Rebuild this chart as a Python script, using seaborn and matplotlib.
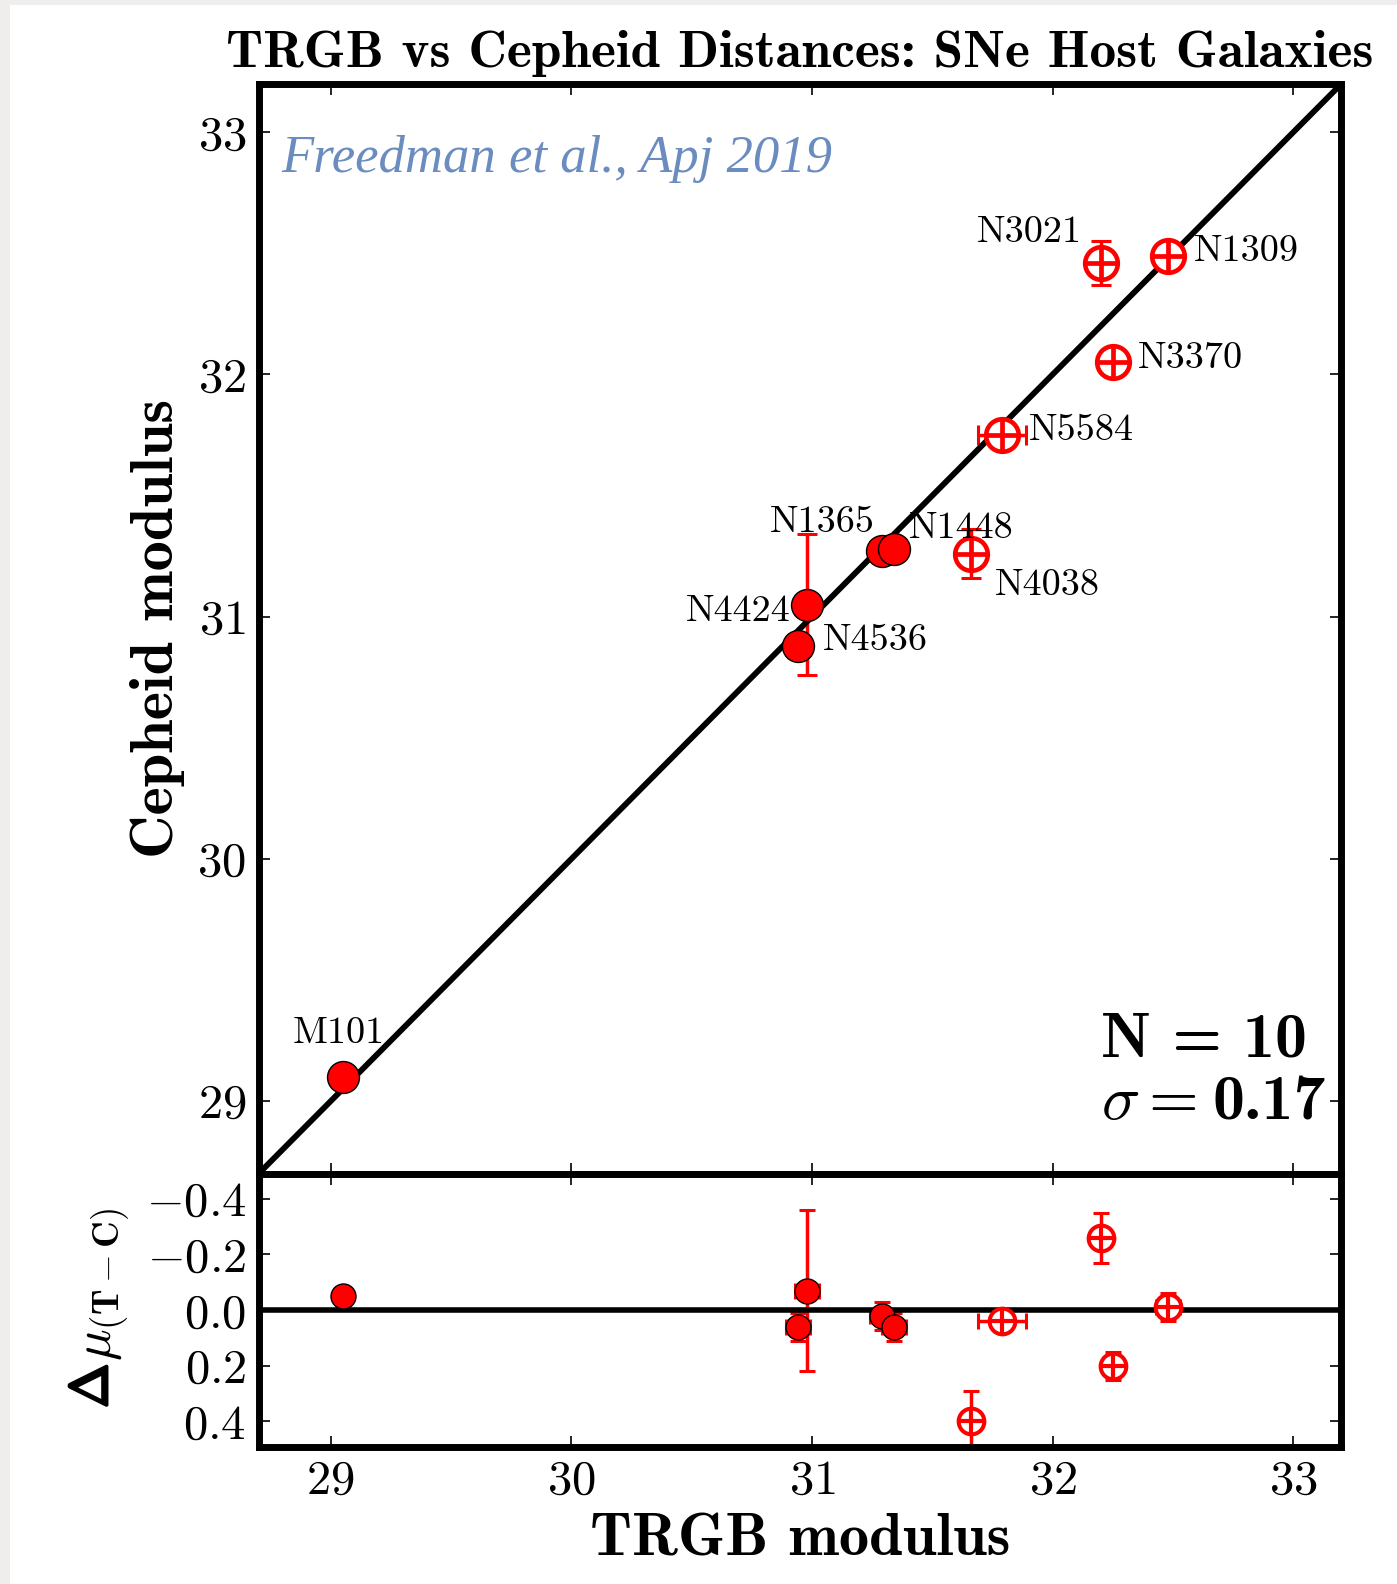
import numpy as np
import pandas as pd
import matplotlib
matplotlib.use("Agg")
import matplotlib.pyplot as plt
import matplotlib.patheffects as pe
import seaborn as sns
from matplotlib.patches import Rectangle

# ---------------- data ----------------
names = ["M101", "N1365", "N1448", "N4424", "N4536",
         "N1309", "N3021", "N3370", "N4038", "N5584"]
trgb = [29.05, 31.29, 31.34, 30.98, 30.94, 32.48, 32.20, 32.25, 31.66, 31.79]
ceph = [29.10, 31.27, 31.28, 31.05, 30.88, 32.49, 32.46, 32.05, 31.26, 31.75]
trgb_err = [0.03, 0.05, 0.05, 0.05, 0.05, 0.05, 0.04, 0.04, 0.04, 0.10]
ceph_err = [0.03, 0.04, 0.04, 0.29, 0.05, 0.04, 0.09, 0.04, 0.10, 0.04]
resid_err = [0.03, 0.05, 0.05, 0.29, 0.05, 0.05, 0.09, 0.05, 0.11, 0.04]
filled = [True, True, True, True, True, False, False, False, False, False]

xticks = [29, 30, 31, 32, 33]
yticks_main = [29, 30, 31, 32, 33]
yticks_res = [-0.4, -0.2, 0.0, 0.2, 0.4]
xlim = [28.7, 33.2]
ylim_main = [28.7, 33.2]
ylim_res = [0.49, -0.49]
n_hosts = 10
sigma = 0.17

# label placement: offset in pixels (dx, dy) and horizontal alignment
label_style = {
    "M101": (-4, 34, "center"),
    "N1365": (-59, 19, "center"),
    "N1448": (15, 11, "left"),
    "N4424": (-16, -16, "right"),
    "N4536": (25, -4, "left"),
    "N4038": (24, -41, "left"),
    "N5584": (26, -5, "left"),
    "N3370": (25, -6, "left"),
    "N1309": (25, -5, "left"),
    "N3021": (-19, 21, "right"),
}

df = pd.DataFrame({"name": names, "trgb": trgb, "ceph": ceph,
                   "trgb_err": trgb_err, "ceph_err": ceph_err,
                   "resid_err": resid_err, "filled": filled})
df["resid"] = df["trgb"] - df["ceph"]

# ---------------- style ----------------
sns.set_theme(style="ticks")
plt.rcParams.update({
    "mathtext.fontset": "cm",
    "font.family": ["cmr10", "DejaVu Serif"],
    "axes.unicode_minus": False,
    "axes.linewidth": 5,
    "text.color": "black",
    "axes.labelcolor": "black",
    "xtick.color": "black",
    "ytick.color": "black",
})

W, H = 1397, 1584
fig = plt.figure(figsize=(W / 100, H / 100), dpi=100)
fig.patch.set_facecolor("#efeeec")
fig.add_artist(Rectangle((10 / W, 0), 1, 1 - 5 / H, transform=fig.transFigure,
                         facecolor="white", edgecolor="none", zorder=0))

ax = fig.add_axes([0.1851, 0.2590, 0.7751, 0.6881])
axr = fig.add_axes([0.1851, 0.0868, 0.7751, 0.1722])

RED = "#ff0000"
fdf = df[df["filled"]]
odf = df[~df["filled"]]

# ---------- main panel ----------
sns.lineplot(x=xlim, y=ylim_main, ax=ax, color="black", linewidth=4.2, zorder=3)
ax.errorbar(df["trgb"], df["ceph"], xerr=df["trgb_err"], yerr=df["ceph_err"],
            fmt="none", ecolor=RED, elinewidth=2.5, capsize=7, capthick=2.2, zorder=2)
sns.scatterplot(data=fdf, x="trgb", y="ceph", ax=ax, s=23 ** 2, color=RED,
                edgecolor="black", linewidth=1, zorder=4)
sns.scatterplot(data=odf, x="trgb", y="ceph", ax=ax, s=23.5 ** 2, color="white",
                edgecolor=RED, linewidth=3.3, zorder=4)
sns.scatterplot(data=odf, x="trgb", y="ceph", ax=ax, s=22.5 ** 2, marker="+",
                color=RED, linewidth=3.4, zorder=5)

for _, r in df.iterrows():
    dx, dy, ha = label_style[r["name"]]
    ax.annotate(r["name"], (r["trgb"], r["ceph"]), xytext=(dx * 1.01, dy * 1.01),
                textcoords="offset pixels", ha=ha, va="baseline",
                fontsize=27.5, fontfamily="cmr10", color="black", zorder=6)

ax.set_xlim(xlim)
ax.set_ylim(ylim_main)
ax.set_xticks(xticks)
ax.set_yticks(yticks_main)
ax.set_yticklabels([r"$\mathrm{%d}$" % v for v in yticks_main])
ax.tick_params(axis="both", direction="in", length=8, width=1.2, top=True,
               right=True, labelbottom=False, labelsize=35, pad=9,
               colors="black")
ax.set_xlabel("")
ax.set_ylabel("Cepheid modulus", fontfamily="cmb10", fontsize=43.5, color="black")
ax.yaxis.set_label_coords(-0.068, 0.5)
ax.set_title("TRGB vs Cepheid Distances: SNe Host Galaxies",
             fontfamily="cmb10", fontsize=38.5, pad=12, color="black")

ax.text(0.0205, 0.919, "Freedman et al., Apj 2019", transform=ax.transAxes,
        fontfamily="Liberation Serif", style="italic", fontsize=38,
        color="#6a8cbf", ha="left", va="baseline")
ax.text(0.778, 0.108, "N = %d" % n_hosts, transform=ax.transAxes,
        fontfamily="cmb10", fontsize=46, ha="left", va="baseline", color="black")
ax.text(0.778, 0.050, r"$\sigma =$", transform=ax.transAxes,
        fontsize=46, ha="left", va="baseline", color="black")
ax.text(0.8806, 0.050, "%.2f" % sigma, transform=ax.transAxes,
        fontfamily="cmb10", fontsize=46, ha="left", va="baseline", color="black")

# ---------- residual panel ----------
axr.axhline(0, color="black", linewidth=4, zorder=3)
axr.errorbar(df["trgb"], df["resid"], xerr=df["trgb_err"], yerr=df["resid_err"],
             fmt="none", ecolor=RED, elinewidth=2.5, capsize=6, capthick=2.2, zorder=2)
sns.scatterplot(data=fdf, x="trgb", y="resid", ax=axr, s=18 ** 2, color=RED,
                edgecolor="black", linewidth=1, zorder=4)
sns.scatterplot(data=odf, x="trgb", y="resid", ax=axr, s=18.5 ** 2, color="white",
                edgecolor=RED, linewidth=2.9, zorder=4)
sns.scatterplot(data=odf, x="trgb", y="resid", ax=axr, s=17.5 ** 2, marker="+",
                color=RED, linewidth=3.0, zorder=5)

axr.set_xlim(xlim)
axr.set_ylim(ylim_res)
axr.set_xticks(xticks)
axr.set_xticklabels([r"$\mathrm{%d}$" % v for v in xticks])
axr.set_yticks(yticks_res)
axr.set_yticklabels([r"$\mathrm{%.1f}$" % v for v in yticks_res])
axr.tick_params(axis="both", direction="in", length=8, width=1.2, top=True,
                right=True, labelsize=35, pad=9, colors="black")
axr.set_xlabel("TRGB modulus", fontfamily="cmb10", fontsize=43.5, color="black")
axr.xaxis.set_label_coords(0.5, -0.245)
axr.set_ylabel("")
# y label of residual panel: bold Delta + mu_(T-C)
axr.text(-0.1306, 0.222, r"$\Delta$", transform=axr.transAxes, rotation=90,
         ha="right", va="center", fontsize=38, color="black",
         path_effects=[pe.withStroke(linewidth=2.2, foreground="black")])
axr.text(-0.1157, 0.593, r"$\mu_{(\mathbf{T-C})}$", transform=axr.transAxes,
         rotation=90, ha="right", va="center", fontsize=38, color="black")

for a in (ax, axr):
    for s in a.spines.values():
        s.set_linewidth(5)
        s.set_color("black")

fig.savefig("out.png", dpi=100, facecolor=fig.get_facecolor())
